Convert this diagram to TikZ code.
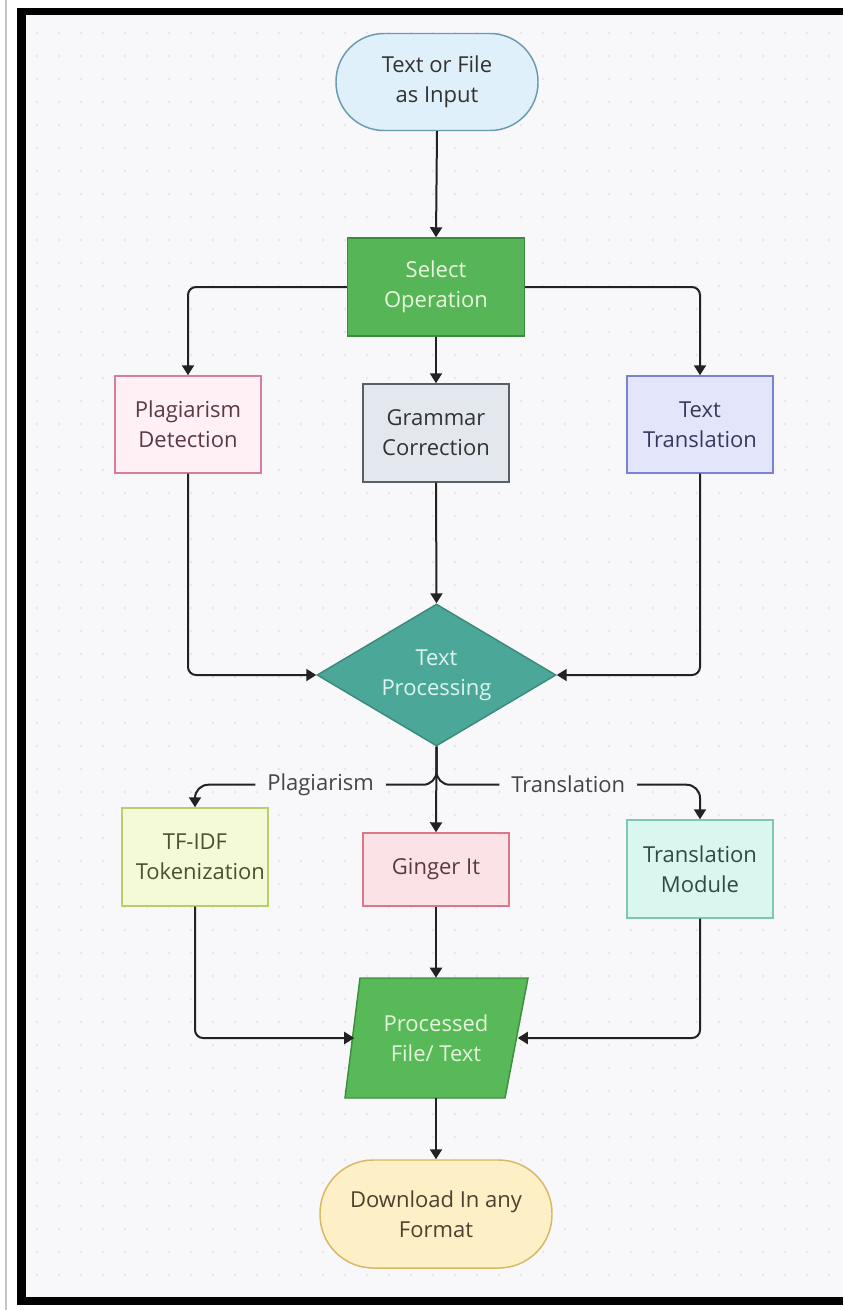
\documentclass[tikz,border=0pt]{standalone}
\usepackage{fontspec}
\setmainfont{Open Sans}
\usetikzlibrary{arrows.meta,shapes.geometric}
\definecolor{bgc}{HTML}{F8F8FB}
\definecolor{dotc}{HTML}{E0E0E8}
\definecolor{linec}{HTML}{222222}
\definecolor{lblc}{HTML}{444444}
\definecolor{startf}{HTML}{DFF0FA}\definecolor{startd}{HTML}{6A9AB0}\definecolor{startt}{HTML}{333333}
\definecolor{self}{HTML}{56B556}\definecolor{seld}{HTML}{3D8B3D}\definecolor{selt}{HTML}{E8F8DC}
\definecolor{plagf}{HTML}{FFF0F5}\definecolor{plagd}{HTML}{D77C9A}\definecolor{plagt}{HTML}{5A3848}
\definecolor{gramf}{HTML}{E3E8EE}\definecolor{gramd}{HTML}{5A5F66}\definecolor{gramt}{HTML}{333333}
\definecolor{transf}{HTML}{E3E5FA}\definecolor{transd}{HTML}{7A82D6}\definecolor{transt}{HTML}{363B5E}
\definecolor{diaf}{HTML}{4BA898}\definecolor{diad}{HTML}{3B8A7C}\definecolor{diat}{HTML}{DDF5EE}
\definecolor{tfidff}{HTML}{F4FAD8}\definecolor{tfidfd}{HTML}{B7CF6A}\definecolor{tfidft}{HTML}{4A5030}
\definecolor{gingf}{HTML}{FBE2E6}\definecolor{gingd}{HTML}{D9788A}\definecolor{gingt}{HTML}{5A3A3E}
\definecolor{tmodf}{HTML}{D9F7EF}\definecolor{tmodd}{HTML}{7FC6B8}\definecolor{tmodt}{HTML}{2E4A45}
\definecolor{procf}{HTML}{57B957}\definecolor{procd}{HTML}{3F8F3F}\definecolor{proct}{HTML}{E6F6DD}
\definecolor{dlf}{HTML}{FDF0C6}\definecolor{dld}{HTML}{D8B862}\definecolor{dlt}{HTML}{4D4030}
\begin{document}
\begin{tikzpicture}[x=0.75pt,y=-0.75pt,
  nf/.style={font=\fontsize{16.5}{22.5}\selectfont, align=center, inner sep=0pt},
  shapebox/.style={nf, draw, line width=1.1pt},
  conn/.style={draw=linec, line width=1.5pt, -{Triangle[length=7.5pt,width=9pt]}, rounded corners=6pt},
  lbl/.style={nf, text=lblc, fill=bgc, inner xsep=9pt, inner ysep=2pt}]
\useasboundingbox (0,0) rectangle (843,1310);
\fill[white] (0,0) rectangle (843,1310);
\draw[gray!45, line width=1pt] (6,0) -- (6,1310);
\fill[black] (17,8) rectangle (843,1305);
\fill[bgc] (26,15) rectangle (843,1297);
\foreach \x in {37,59,...,835} \foreach \y in {33,56,...,1290} \fill[dotc] (\x,\y) circle (0.8pt);
% nodes
\node[shapebox, fill=startf, draw=startd, text=startt, rounded corners=36pt, minimum width=151.5pt, minimum height=72.75pt] (start) at (437,82) {Text or File\\as Input};
\node[shapebox, fill=self, draw=seld, text=selt, minimum width=132.75pt, minimum height=73.5pt] (select) at (436,287) {Select\\Operation};
\node[shapebox, fill=plagf, draw=plagd, text=plagt, minimum width=109.5pt, minimum height=72.75pt] (plag) at (188,424.5) {Plagiarism\\Detection};
\node[shapebox, fill=gramf, draw=gramd, text=gramt, minimum width=109.5pt, minimum height=73.5pt] (gram) at (436,433) {Grammar\\Correction};
\node[shapebox, fill=transf, draw=transd, text=transt, minimum width=109.5pt, minimum height=72.75pt] (ttrans) at (700,424.5) {Text\\Translation};
\node[shapebox, shape=diamond, aspect=1.68, fill=diaf, draw=diad, text=diat, minimum width=179.25pt, minimum height=106.5pt] (tp) at (436.5,675) {Text\\Processing};
\node[shapebox, fill=tfidff, draw=tfidfd, text=tfidft, minimum width=109.5pt, minimum height=73.5pt] (tfidf) at (195,857) {TF-IDF\\\hspace*{8pt}Tokenization};
\node[shapebox, fill=gingf, draw=gingd, text=gingt, minimum width=109.5pt, minimum height=54.75pt] (ginger) at (436,869.5) {Ginger It};
\node[shapebox, fill=tmodf, draw=tmodd, text=tmodt, minimum width=109.5pt, minimum height=73.5pt] (tmod) at (700,869) {Translation\\Module};
\draw[fill=procf, draw=procd, line width=1.1pt] (360,978) -- (528,978) -- (505,1098) -- (345,1098) -- cycle;
\node[nf, text=proct, minimum width=122.25pt, minimum height=90pt] (proc) at (436,1038) {Processed\\File/ Text};
\node[shapebox, fill=dlf, draw=dld, text=dlt, rounded corners=40pt, minimum width=174pt, minimum height=81pt] (download) at (436,1214) {Download In any\\Format};
% connectors
\draw[conn] (start.south) -- (select.north);
\draw[conn] (select.west) -| (plag.north);
\draw[conn] (select.south) -- (gram.north);
\draw[conn] (select.east) -| (ttrans.north);
\draw[conn] (plag.south) |- (tp.west);
\draw[conn] (gram.south) -- (tp.north);
\draw[conn] (ttrans.south) |- (tp.east);
\draw[conn] (tp.south) -- (ginger.north);
\draw[conn, rounded corners=10pt] (tp.south) -- ++(0,38) -| (tfidf.north) node[lbl, pos=0.24] {Plagiarism};
\draw[conn, rounded corners=10pt] (tp.south) -- ++(0,38) -| (tmod.north) node[lbl, pos=0.25] {Translation};
\draw[conn] (tfidf.south) |- (proc.west);
\draw[conn] (ginger.south) -- (proc.north);
\draw[conn] (tmod.south) |- (proc.east);
\draw[conn] (proc.south) -- (download.north);
\end{tikzpicture}
\end{document}
